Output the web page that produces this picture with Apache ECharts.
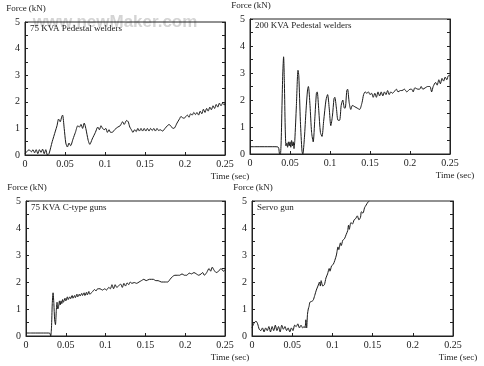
<!DOCTYPE html>
<html>
<head>
<meta charset="utf-8">
<script src="https://cdn.jsdelivr.net/npm/echarts@6/dist/echarts.min.js"></script>
<style>html,body{margin:0;padding:0;background:#fff;}#c{width:484px;height:366px;}</style>
</head>
<body>
<div id="c"></div>
<script>
// ---------- DATA ----------
const panelTitles = ['75 KVA Pedestal welders', '200 KVA Pedestal welders', '75 KVA C-type guns', 'Servo gun'];
const yAxisName = 'Force (kN)';
const xAxisName = 'Time (sec)';
const xTickLabels = ['0', '0.05', '0.1', '0.15', '0.2', '0.25'];
const yTickLabels = ['0', '1', '2', '3', '4', '5'];

// Panel 1: 75 KVA Pedestal welders
const t1 = [0.000,0.003,0.005,0.008,0.010,0.012,0.014,0.016,0.018,0.020,0.022,0.024,0.026,0.028,0.030,0.034,0.038,0.040,0.042,0.044,0.046,0.047,0.049,0.051,0.053,0.055,0.057,0.060,0.063,0.066,0.068,0.070,0.072,0.074,0.076,0.079,0.081,0.084,0.088,0.091,0.093,0.095,0.097,0.099,0.101,0.103,0.105,0.107,0.109,0.112,0.116,0.119,0.122,0.124,0.127,0.129,0.131,0.133,0.135,0.137,0.139,0.141,0.143,0.145,0.147,0.149,0.151,0.153,0.155,0.157,0.159,0.161,0.163,0.165,0.167,0.169,0.172,0.175,0.178,0.180,0.182,0.185,0.187,0.190,0.193,0.195,0.197,0.199,0.201,0.203,0.205,0.207,0.209,0.211,0.213,0.215,0.217,0.219,0.221,0.223,0.225,0.227,0.229,0.231,0.233,0.235,0.237,0.239,0.241,0.243,0.245,0.247,0.249,0.250];
const f1 = [0.05,0.15,0.2,0.12,0.2,0.08,0.2,0.05,0.2,0.1,0.22,0.05,0.2,0.0,0.05,0.5,0.9,1.1,1.35,1.25,1.45,1.5,1.0,0.45,0.3,0.45,0.35,0.6,0.85,1.1,1.05,1.15,1.0,1.2,1.0,0.55,0.4,0.6,0.85,1.05,0.95,1.1,1.0,0.95,1.0,0.85,0.95,0.85,0.85,0.95,1.05,1.1,1.25,1.15,1.3,1.25,1.05,0.95,0.85,0.95,0.88,1.0,0.9,1.0,0.9,1.0,0.9,1.0,0.9,1.0,0.92,1.0,0.9,1.0,0.92,0.95,0.9,1.0,1.1,1.15,1.1,1.0,1.02,1.2,1.35,1.45,1.4,1.38,1.45,1.5,1.42,1.55,1.5,1.6,1.52,1.6,1.5,1.65,1.55,1.72,1.6,1.75,1.65,1.8,1.7,1.85,1.75,1.9,1.8,1.95,1.85,1.95,1.88,1.95];

// Panel 2: 200 KVA Pedestal welders
const t2 = [0.000,0.010,0.020,0.030,0.035,0.036,0.037,0.038,0.039,0.040,0.041,0.042,0.043,0.044,0.045,0.046,0.047,0.048,0.049,0.050,0.051,0.052,0.053,0.054,0.055,0.056,0.058,0.060,0.061,0.063,0.065,0.066,0.068,0.070,0.072,0.073,0.075,0.077,0.079,0.081,0.083,0.084,0.086,0.088,0.090,0.092,0.095,0.097,0.099,0.101,0.103,0.105,0.106,0.108,0.110,0.112,0.114,0.116,0.118,0.119,0.121,0.122,0.124,0.126,0.128,0.131,0.134,0.137,0.140,0.142,0.144,0.146,0.148,0.150,0.152,0.154,0.156,0.158,0.160,0.162,0.164,0.166,0.168,0.170,0.172,0.174,0.176,0.178,0.180,0.183,0.185,0.188,0.190,0.193,0.196,0.198,0.200,0.202,0.204,0.206,0.210,0.212,0.214,0.216,0.219,0.222,0.225,0.227,0.229,0.232,0.234,0.236,0.238,0.240,0.242,0.244,0.246,0.248,0.250];
const f2 = [0.27,0.27,0.27,0.27,0.26,0.2,0.0,0.0,0.5,1.8,3.0,3.6,2.6,1.0,0.3,0.4,0.25,0.45,0.3,0.45,0.25,0.5,0.3,0.45,0.2,0.5,1.8,3.1,2.9,1.2,0.1,0.0,0.6,1.6,2.4,2.5,1.8,0.8,0.45,1.3,2.25,2.3,1.6,0.8,0.65,1.2,2.0,2.2,1.7,1.05,1.4,2.05,2.1,1.7,1.25,1.25,1.8,2.0,1.7,1.7,2.35,2.4,1.9,1.65,1.8,1.75,1.7,1.65,1.9,2.2,2.3,2.25,2.3,2.2,2.25,2.1,2.25,2.1,2.3,2.15,2.3,2.15,2.3,2.2,2.35,2.2,2.3,2.25,2.3,2.4,2.3,2.35,2.35,2.4,2.3,2.35,2.4,2.4,2.3,2.45,2.4,2.4,2.5,2.4,2.45,2.5,2.5,2.3,2.5,2.65,2.55,2.75,2.6,2.8,2.7,2.85,2.75,2.9,2.9];

// Panel 3: 75 KVA C-type guns
const t3 = [0.000,0.010,0.020,0.028,0.030,0.031,0.032,0.033,0.034,0.035,0.036,0.037,0.038,0.039,0.040,0.041,0.042,0.043,0.044,0.045,0.046,0.047,0.049,0.050,0.052,0.053,0.055,0.056,0.058,0.059,0.061,0.062,0.064,0.065,0.067,0.068,0.070,0.071,0.073,0.074,0.076,0.077,0.079,0.080,0.083,0.086,0.088,0.090,0.093,0.096,0.099,0.101,0.104,0.106,0.108,0.110,0.112,0.114,0.116,0.119,0.121,0.123,0.125,0.127,0.129,0.131,0.133,0.136,0.139,0.142,0.145,0.148,0.151,0.155,0.160,0.163,0.166,0.170,0.175,0.178,0.181,0.184,0.187,0.190,0.193,0.196,0.199,0.202,0.205,0.208,0.211,0.214,0.217,0.220,0.222,0.224,0.227,0.230,0.232,0.234,0.236,0.239,0.242,0.245,0.248,0.250];
const f3 = [0.11,0.11,0.11,0.11,0.1,0.0,0.3,1.2,1.6,1.2,0.6,0.42,0.9,1.25,1.0,1.1,1.3,1.15,1.3,1.2,1.35,1.25,1.4,1.3,1.45,1.35,1.45,1.38,1.5,1.4,1.5,1.42,1.55,1.45,1.55,1.48,1.58,1.5,1.6,1.5,1.62,1.52,1.65,1.55,1.62,1.72,1.67,1.75,1.75,1.7,1.75,1.7,1.8,1.75,1.9,1.75,1.9,1.8,1.85,1.92,1.8,1.95,1.85,1.97,1.9,2.0,1.95,1.98,1.95,2.0,2.05,2.1,2.05,2.1,2.1,2.05,2.05,2.0,2.0,2.0,2.1,2.2,2.25,2.25,2.25,2.3,2.25,2.25,2.33,2.3,2.35,2.3,2.25,2.3,2.35,2.25,2.35,2.5,2.4,2.55,2.45,2.35,2.4,2.5,2.4,2.45];

// Panel 4: Servo gun
const t4 = [0.000,0.002,0.005,0.007,0.009,0.011,0.013,0.015,0.017,0.019,0.021,0.023,0.025,0.027,0.029,0.031,0.033,0.035,0.037,0.039,0.041,0.043,0.045,0.047,0.049,0.051,0.053,0.055,0.057,0.059,0.061,0.063,0.065,0.066,0.067,0.068,0.069,0.070,0.071,0.072,0.074,0.076,0.078,0.080,0.082,0.084,0.085,0.086,0.088,0.090,0.092,0.094,0.096,0.097,0.099,0.101,0.103,0.105,0.107,0.108,0.110,0.111,0.113,0.115,0.117,0.119,0.120,0.121,0.123,0.125,0.127,0.129,0.131,0.133,0.135,0.136,0.138,0.140,0.142,0.144,0.146];
const f4 = [0.3,0.45,0.55,0.45,0.25,0.2,0.3,0.15,0.3,0.2,0.35,0.15,0.35,0.2,0.4,0.2,0.35,0.15,0.4,0.25,0.35,0.2,0.3,0.15,0.3,0.2,0.4,0.35,0.45,0.3,0.4,0.3,0.35,0.3,0.6,0.3,0.8,1.0,1.1,1.25,1.28,1.32,1.5,1.7,1.85,2.0,1.85,2.05,1.85,1.9,2.15,2.3,2.5,2.4,2.6,2.65,2.8,3.0,3.3,3.2,3.45,3.35,3.55,3.6,3.75,3.9,4.1,3.95,4.2,4.15,4.3,4.35,4.45,4.3,4.4,4.6,4.55,4.75,4.85,4.95,5.0];

const seriesT = [t1, t2, t3, t4];
const seriesF = [f1, f2, f3, f4];

// ---------- LAYOUT ----------
const grids = [
  {left: 25, top: 22, width: 200, height: 133},
  {left: 250, top: 19, width: 200, height: 135},
  {left: 26, top: 201, width: 199, height: 135},
  {left: 252, top: 201, width: 201, height: 135}
];
const serif = '"Liberation Serif", "DejaVu Serif", serif';
const ink = '#222';

const chart = echarts.init(document.getElementById('c'), null, {renderer: 'canvas'});

const xAxes = [], yAxes = [], series = [], graphics = [];

// watermark (behind everything)
graphics.push({type: 'text', x: 115, y: 22, z: -10, style: {text: 'www.newMaker.com', fill: '#d4d4d4', font: 'bold 17px "Liberation Sans", Arial, sans-serif', align: 'center', verticalAlign: 'middle', textAlign: 'center', textVerticalAlign: 'middle'}});

grids.forEach((g, i) => {
  xAxes.push({
    gridIndex: i, type: 'value', min: 0, max: 0.25, interval: 0.05,
    axisLine: {show: true, onZero: false, lineStyle: {color: ink, width: 1}},
    axisTick: {show: true, inside: true, length: 3, lineStyle: {color: ink}},
    axisLabel: {margin: 4, fontFamily: serif, fontSize: 10, color: ink,
      formatter: v => xTickLabels[Math.round(v / 0.05)]},
    splitLine: {show: false}
  });
  yAxes.push({
    gridIndex: i, type: 'value', min: 0, max: 5, interval: 0.5,
    axisLine: {show: true, onZero: false, lineStyle: {color: ink, width: 1}},
    axisTick: {show: true, inside: true, length: 3, lineStyle: {color: ink}},
    axisLabel: {margin: 5, fontFamily: serif, fontSize: 10, color: ink,
      formatter: v => (Math.abs(v - Math.round(v)) < 1e-6 ? yTickLabels[Math.round(v)] : '')},
    splitLine: {show: false}
  });
  // right-side ticks
  yAxes.push({
    gridIndex: i, type: 'value', min: 0, max: 5, interval: 0.5, position: 'right',
    axisLine: {show: true, onZero: false, lineStyle: {color: ink, width: 1}},
    axisTick: {show: true, inside: true, length: 3, lineStyle: {color: ink}},
    axisLabel: {show: false},
    splitLine: {show: false}
  });
  series.push({
    type: 'line', xAxisIndex: i, yAxisIndex: i * 2,
    data: seriesT[i].map((t, k) => [t, seriesF[i][k]]),
    showSymbol: false, symbol: 'none', smooth: 0.25, clip: true,
    lineStyle: {color: '#1a1a1a', width: 1},
    animation: false
  });
  // panel title inside box
  graphics.push({type: 'text', x: g.left + 5, y: g.top + 7, z: 10,
    style: {text: panelTitles[i], fill: ink, font: '9px ' + serif, align: 'left', verticalAlign: 'middle', textAlign: 'left', textVerticalAlign: 'middle'}});
  // y axis name
  graphics.push({type: 'text', x: g.left + 1, y: g.top - 13, z: 10,
    style: {text: yAxisName, fill: ink, font: '9px ' + serif, align: 'center', verticalAlign: 'middle', textAlign: 'center', textVerticalAlign: 'middle'}});
  // x axis name
  graphics.push({type: 'text', x: g.left + g.width + 5, y: g.top + g.height + 22, z: 10,
    style: {text: xAxisName, fill: ink, font: '9px ' + serif, align: 'center', verticalAlign: 'middle', textAlign: 'center', textVerticalAlign: 'middle'}});
});

chart.setOption({
  animation: false,
  backgroundColor: '#fff',
  grid: grids.map(g => Object.assign({show: true, borderColor: ink, borderWidth: 1, backgroundColor: 'transparent'}, g)),
  xAxis: xAxes,
  yAxis: yAxes,
  series: series,
  graphic: graphics
});
</script>
</body>
</html>
